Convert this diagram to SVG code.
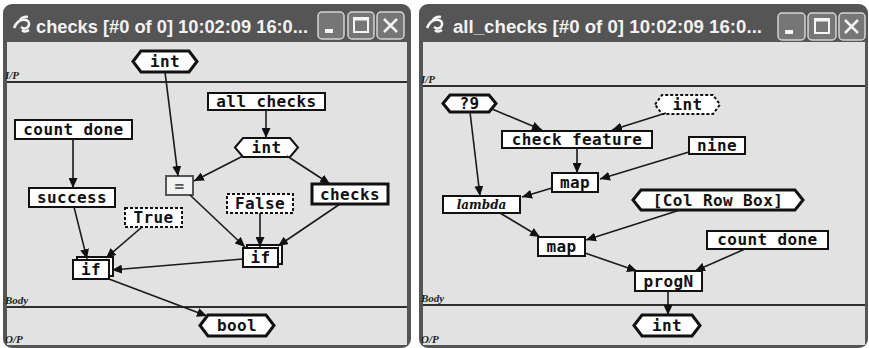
<svg xmlns="http://www.w3.org/2000/svg" width="869" height="348" viewBox="0 0 869 348">
<style>
.frame{fill:#555}
.body{fill:#e2e2e2}
.sep{stroke:#2e2e2e;stroke-width:2}
.title{font-family:"Liberation Sans",Arial,sans-serif;font-weight:bold;font-size:18px;fill:#f2f2f2}
.btn{fill:#767676;stroke:#d4d4d4;stroke-width:1.5}
.glyph{stroke:#f4f4f4;stroke-width:2.5;fill:none}
.zone{font-family:"Liberation Serif",serif;font-style:italic;font-weight:bold;font-size:11px;fill:#222}
.n{fill:#fff;stroke:#111;stroke-width:2}
.thick{stroke-width:3}
.dash{stroke-dasharray:3 2}
.eq{fill:#f2f2f2;stroke:#555;stroke-width:2}
.t{font-family:"DejaVu Sans Mono","Liberation Mono",monospace;font-weight:bold;font-size:16px;letter-spacing:0.4px;fill:#111;text-anchor:middle}
.lam{font-family:"DejaVu Serif","Liberation Serif",serif;font-style:italic;font-weight:bold;font-size:12px;fill:#111;text-anchor:middle}
.c{stroke:#1a1a1a;stroke-width:1.6;fill:none;marker-end:url(#ah)}
</style>
<defs>
<marker id="ah" markerUnits="userSpaceOnUse" markerWidth="11" markerHeight="9" refX="10" refY="4.5" orient="auto">
<path d="M0,0 L10,4.5 L0,9 Z" fill="#111"/>
</marker>
</defs>

<g id="window-left">
<rect class="frame" x="3" y="4" width="408" height="344" rx="9"/>
<rect class="body" x="7" y="42" width="400" height="303"/>
<path d="M14,28 q4,-10 12,-8 q5,2 2,7 q-3,3 -7,0 M20,20 q3,-4 8,-3 M22,30 q3,3 7,0" class="glyph" stroke-width="1.8"/>
<text class="title" x="36" y="33" textLength="272" lengthAdjust="spacingAndGlyphs">checks [#0 of 0]  10:02:09 16:0...</text>
<rect class="btn" x="318" y="12" width="26" height="27" rx="4"/>
<rect x="325" y="29" width="8" height="4" fill="#f4f4f4"/>
<rect class="btn" x="348" y="12" width="26" height="27" rx="4"/>
<rect x="354" y="18" width="14" height="14" fill="none" stroke="#f4f4f4" stroke-width="2"/>
<line x1="354" y1="19" x2="368" y2="19" stroke="#f4f4f4" stroke-width="3"/>
<rect class="btn" x="377" y="12" width="27" height="27" rx="4"/>
<path class="glyph" d="M384,19 L397,32 M397,19 L384,32"/>
<line class="sep" x1="7" y1="82" x2="407" y2="82"/>
<line class="sep" x1="7" y1="307" x2="407" y2="307"/>
<text class="zone" x="5" y="79">I/P</text>
<text class="zone" x="5" y="304">Body</text>
<text class="zone" x="5" y="343">O/P</text>
</g>

<g id="window-right">
<rect class="frame" x="419" y="4" width="449" height="344" rx="9"/>
<rect class="body" x="423" y="42" width="442" height="303"/>
<path d="M427,28 q4,-10 12,-8 q5,2 2,7 q-3,3 -7,0 M433,20 q3,-4 8,-3 M435,30 q3,3 7,0" class="glyph" stroke-width="1.8"/>
<text class="title" x="453" y="33" textLength="309" lengthAdjust="spacingAndGlyphs">all_checks [#0 of 0]  10:02:09 16:0...</text>
<rect class="btn" x="778" y="13" width="27" height="27" rx="4"/>
<rect x="785" y="30" width="8" height="4" fill="#f4f4f4"/>
<rect class="btn" x="808" y="13" width="28" height="27" rx="4"/>
<rect x="815" y="19" width="14" height="14" fill="none" stroke="#f4f4f4" stroke-width="2"/>
<line x1="815" y1="20" x2="829" y2="20" stroke="#f4f4f4" stroke-width="3"/>
<rect class="btn" x="839" y="13" width="26" height="27" rx="4"/>
<path class="glyph" d="M845,20 L858,33 M858,20 L845,33"/>
<line class="sep" x1="423" y1="86" x2="865" y2="86"/>
<line class="sep" x1="423" y1="305" x2="865" y2="305"/>
<text class="zone" x="421" y="83">I/P</text>
<text class="zone" x="421" y="302">Body</text>
<text class="zone" x="421" y="343">O/P</text>
</g>

<g id="n-int-in-left">
<polygon class="n thick" points="133,61.5 141,51 189,51 197,61.5 189,72 141,72"/>
<text class="t" x="165" y="67">int</text>
</g>
<g id="n-all-checks">
<rect class="n" x="208" y="93" width="117" height="17"/>
<text class="t" x="266.5" y="107">all checks</text>
</g>
<g id="n-count-done-left">
<rect class="n" x="15" y="120" width="117" height="19"/>
<text class="t" x="73.5" y="135">count done</text>
</g>
<g id="n-int-mid">
<polygon class="n" points="235,147.5 243,138 290,138 298,147.5 290,157 243,157"/>
<text class="t" x="266.5" y="153">int</text>
</g>
<g id="n-eq">
<rect class="eq" x="166" y="176" width="27" height="19"/>
<text class="t" x="179.5" y="191" style="fill:#555">=</text>
</g>
<g id="n-success">
<rect class="n" x="29" y="188" width="86" height="19"/>
<text class="t" x="72" y="203">success</text>
</g>
<g id="n-checks">
<rect class="n thick" x="312" y="184" width="76" height="20"/>
<text class="t" x="350" y="200">checks</text>
</g>
<g id="n-false">
<rect class="n dash" x="227" y="194" width="66" height="19"/>
<text class="t" x="260" y="209">False</text>
</g>
<g id="n-true">
<rect class="n dash" x="125" y="208" width="57" height="19"/>
<text class="t" x="153.5" y="223">True</text>
</g>
<g id="n-if-left">
<rect class="n" x="77" y="257" width="36" height="19"/>
<rect class="n" x="73" y="260" width="36" height="19"/>
<text class="t" x="91" y="275">if</text>
</g>
<g id="n-if-right">
<rect class="n" x="247" y="245" width="35" height="19"/>
<rect class="n" x="243" y="248" width="35" height="19"/>
<text class="t" x="260.5" y="263">if</text>
</g>
<g id="n-bool">
<polygon class="n thick" points="200,325.5 208,315 266,315 274,325.5 266,336 208,336"/>
<text class="t" x="237" y="331">bool</text>
</g>

<g id="n-q9">
<polygon class="n thick" points="443,103.5 450,95 489,95 496,103.5 489,112 450,112"/>
<text class="t" x="469.5" y="109">?9</text>
</g>
<g id="n-int-dashed">
<polygon class="n dash" points="655,104.5 662,95 713,95 720,104.5 713,114 662,114"/>
<text class="t" x="687.5" y="110">int</text>
</g>
<g id="n-check-feature">
<rect class="n" x="502" y="131" width="150" height="17"/>
<text class="t" x="577" y="145">check feature</text>
</g>
<g id="n-nine">
<rect class="n" x="689" y="137" width="56" height="17"/>
<text class="t" x="717" y="151">nine</text>
</g>
<g id="n-map-upper">
<rect class="n" x="552" y="173" width="46" height="19"/>
<text class="t" x="575" y="188">map</text>
</g>
<g id="n-lambda">
<rect class="n" x="443" y="196" width="77" height="17"/>
<text class="lam" x="481.5" y="209">lambda</text>
</g>
<g id="n-col-row-box">
<polygon class="n thick" points="633,200 641,190 795,190 803,200 795,210 641,210"/>
<text class="t" x="718" y="205.5">[Col Row Box]</text>
</g>
<g id="n-map-lower">
<rect class="n" x="538" y="237" width="47" height="19"/>
<text class="t" x="561.5" y="252">map</text>
</g>
<g id="n-count-done-right">
<rect class="n" x="707" y="231" width="121" height="18"/>
<text class="t" x="767.5" y="245">count done</text>
</g>
<g id="n-progn">
<rect class="n" x="635" y="271" width="67" height="20"/>
<text class="t" x="668.5" y="287">progN</text>
</g>
<g id="n-int-out-right">
<polygon class="n thick" points="634,325.5 642,315 692,315 700,325.5 692,336 642,336"/>
<text class="t" x="667" y="331">int</text>
</g>

<g id="connectors">
<line class="c" x1="165" y1="72" x2="178" y2="176"/>
<line class="c" x1="266" y1="110" x2="266" y2="138"/>
<line class="c" x1="243" y1="156" x2="194" y2="181"/>
<line class="c" x1="287" y1="156" x2="330" y2="184"/>
<line class="c" x1="73" y1="139" x2="73" y2="188"/>
<line class="c" x1="74" y1="207" x2="87" y2="259"/>
<line class="c" x1="142" y1="227" x2="106" y2="258"/>
<line class="c" x1="190" y1="195" x2="245" y2="247"/>
<line class="c" x1="260" y1="213" x2="260" y2="247"/>
<line class="c" x1="340" y1="204" x2="278" y2="246"/>
<line class="c" x1="243" y1="259" x2="112" y2="270"/>
<line class="c" x1="109" y1="279" x2="207" y2="316"/>

<line class="c" x1="492" y1="109" x2="542" y2="130"/>
<line class="c" x1="666" y1="113" x2="612" y2="130"/>
<line class="c" x1="470" y1="112" x2="480" y2="196"/>
<line class="c" x1="577" y1="148" x2="577" y2="173"/>
<line class="c" x1="689" y1="152" x2="600" y2="179"/>
<line class="c" x1="552" y1="188" x2="522" y2="197"/>
<line class="c" x1="500" y1="213" x2="540" y2="237"/>
<line class="c" x1="680" y1="210" x2="586" y2="240"/>
<line class="c" x1="585" y1="253" x2="637" y2="271"/>
<line class="c" x1="745" y1="249" x2="695" y2="271"/>
<line class="c" x1="668" y1="291" x2="668" y2="315"/>
</g>
</svg>
